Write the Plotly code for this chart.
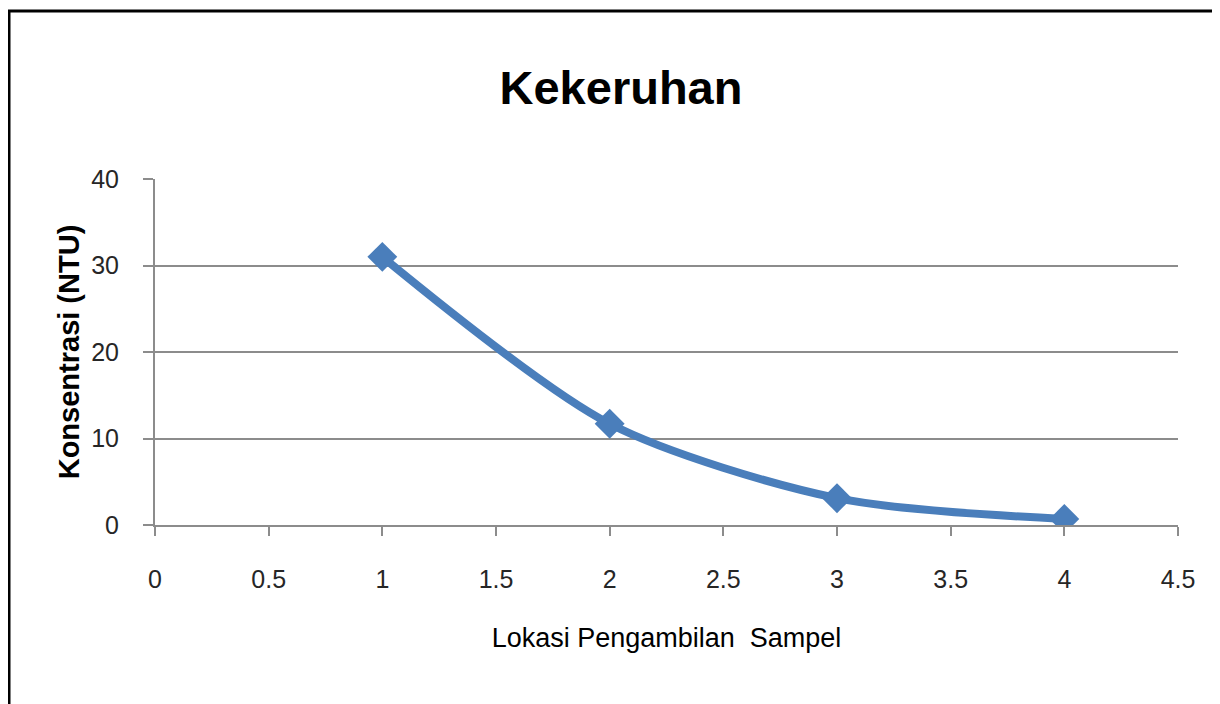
import plotly.graph_objects as go

lokasi = [1, 2, 3, 4]
kekeruhan = [31.0, 11.7, 3.1, 0.7]
x_ticks = [0, 0.5, 1, 1.5, 2, 2.5, 3, 3.5, 4, 4.5]
x_tick_labels = ["0", "0.5", "1", "1.5", "2", "2.5", "3", "3.5", "4", "4.5"]
y_ticks = [0, 10, 20, 30, 40]

# page body has an 8px margin, so the figure is drawn 8px right/down
W, H = 1212, 696
L, R, T, B = 147, 42, 171, 179
pw, ph = W - L - R, H - T - B

font = "Liberation Sans, Arial, sans-serif"

fig = go.Figure()
fig.add_trace(go.Scatter(
    x=lokasi, y=kekeruhan, mode="lines+markers",
    line=dict(color="#4A7EBB", width=8, shape="spline", smoothing=0.8),
    marker=dict(symbol="diamond", size=23, color="#4A7EBB"),
    showlegend=False,
))

fig.update_layout(
    width=W, height=H,
    margin=dict(l=L, r=R, t=T, b=B),
    paper_bgcolor="white", plot_bgcolor="white",
    title=dict(text="<b>Kekeruhan</b>", x=613 / W, xanchor="center", y=1 - 80 / H, yanchor="middle",
               font=dict(family=font, size=47, color="black")),
    xaxis=dict(range=[0, 4.5], tickvals=x_ticks, ticktext=x_tick_labels,
               showgrid=False, zeroline=False, showline=True, linecolor="#8c8c8c", linewidth=2,
               ticks="outside", ticklen=9, tickcolor="#8c8c8c", tickwidth=2,
               ticklabelstandoff=22,
               tickfont=dict(family=font, size=25, color="#262626"),
               title=dict(text="Lokasi Pengambilan  Sampel", standoff=36,
                          font=dict(family=font, size=27, color="black"))),
    yaxis=dict(range=[0, 40], tickvals=y_ticks,
               showgrid=True, gridcolor="#8c8c8c", gridwidth=2, zeroline=False,
               showline=True, linecolor="#8c8c8c", linewidth=2,
               ticks="outside", ticklen=10, tickcolor="#8c8c8c", tickwidth=2,
               ticklabelstandoff=19,
               tickfont=dict(family=font, size=25, color="#262626"),
               title=dict(text="<b>Konsentrasi (NTU)</b>", standoff=3,
                          font=dict(family=font, size=29, color="black"))),
)

# outer frame: only its left and top edges fall inside the picture
fig.add_shape(type="rect", xref="paper", yref="paper",
              x0=(1 - L) / pw, x1=(W + 20 - L) / pw,
              y0=-(B + 20) / ph, y1=(H - B - 3) / ph,
              line=dict(color="black", width=3), fillcolor="rgba(0,0,0,0)", layer="below")

fig.write_html("out.html")
